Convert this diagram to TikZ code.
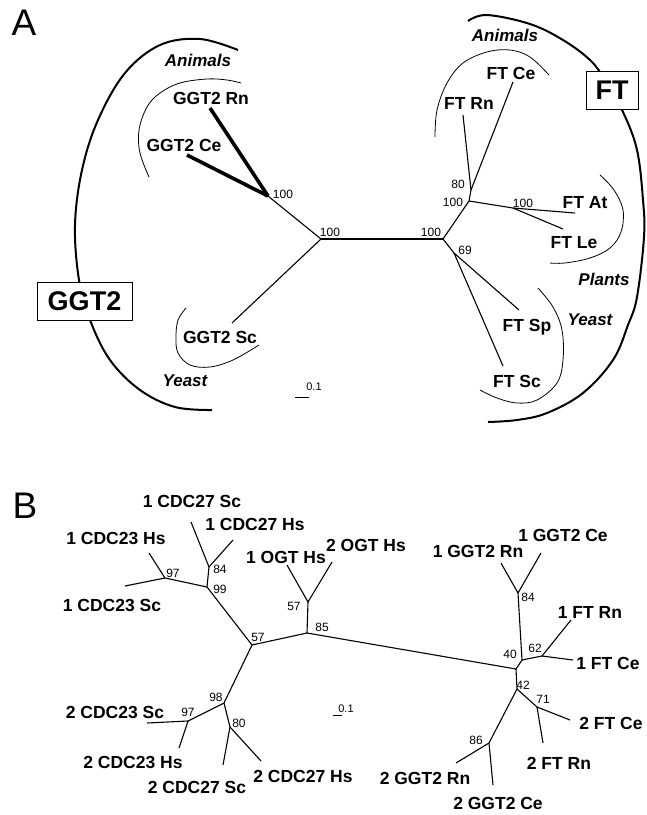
\documentclass[tikz,border=0pt]{standalone}
\usepackage{fontspec}
\newfontfamily\hv{Liberation Sans}
\tikzset{
  leaf/.style={font=\hv\fontsize{17.5}{20}\selectfont\bfseries, inner sep=0pt},
  grp/.style={font=\hv\fontsize{17}{20}\selectfont\bfseries\itshape, inner sep=0pt},
  boot/.style={font=\hv\fontsize{12}{14}\selectfont, inner sep=0pt},
  panel/.style={font=\hv\fontsize{37}{40}\selectfont, inner sep=0pt},
  famfbox/.style={draw, line width=1pt, fill=white, inner sep=0pt, font=\hv\fontsize{27}{30}\selectfont\bfseries},
  br/.style={line width=1.1pt},
  brthick/.style={line width=3.6pt},
  arcthin/.style={line width=0.8pt},
  arcthick/.style={line width=2pt},
  scalelbl/.style={font=\hv\fontsize{11}{12}\selectfont, inner sep=0pt}
}
\begin{document}
\begin{tikzpicture}[x=1pt,y=-1pt]
\useasboundingbox (0,0) rectangle (647,815);
% ---------------- Panel A ----------------
\node[panel] (pA) at (24,23) {A};
% outer arcs
\draw[arcthick] plot[smooth, tension=0.6] coordinates {(238,50) (200,39) (160,45) (125,73) (98,120) (82,170) (75,225) (79,280) (90,320) (110,360) (140,390) (175,407) (212,410)};
\draw[arcthick] plot[smooth, tension=0.6] coordinates {(468,21) (487,15) (530,24) (563,40) (590,60) (605,80) (623,112) (637,150) (643,200) (644,237) (637,297) (628,325) (613,360) (583,393) (547,413) (517,420) (488,422)};
\node[famfbox, minimum width=95pt, minimum height=38pt] (ggtbox) at (84.5,301) {GGT2};
\node[famfbox, minimum width=52pt, minimum height=38pt] (ftbox) at (612,90) {FT};
% inner arcs
\draw[arcthin] plot[smooth, tension=0.6] coordinates {(149,177) (140,153) (139,130) (147,107) (160,93) (180,83) (207,79) (227,80) (241,83)};
\draw[arcthin] plot[smooth, tension=0.6] coordinates {(186,308) (178,320) (176,337) (178,353) (190,365) (210,367) (233,360) (259,345)};
\draw[arcthin] plot[smooth, tension=0.6] coordinates {(435,137) (437,110) (447,83) (463,63) (487,52) (510,50) (530,57) (549,75)};
\draw[arcthin] plot[smooth, tension=0.6] coordinates {(600,175) (614,190) (623,210) (621,232) (610,248) (590,258) (565,263) (550,263)};
\draw[arcthin] plot[smooth, tension=0.6] coordinates {(538,288) (553,307) (562,330) (563,360) (557,383) (537,400) (517,403) (497,398) (480,390)};
% group labels
\node[grp] (anL) at (198,60) {Animals};
\node[grp] (anR) at (505,35) {Animals};
\node[grp] (plR) at (604,279) {Plants};
\node[grp] (yeR) at (590,320) {Yeast};
\node[grp] (yeL) at (185,381) {Yeast};
% tree coordinates
\coordinate (nL) at (321,239);
\coordinate (nR) at (443,239);
\coordinate (gA) at (268,196);
\coordinate (eGRn) at (210,108);
\coordinate (eGCe) at (187,155);
\coordinate (eGSc) at (232,323);
\coordinate (fA) at (469,201);
\coordinate (fAn) at (471,190);
\coordinate (eFRn) at (463,115);
\coordinate (eFCe) at (513,82);
\coordinate (fP) at (513,208);
\coordinate (eFAt) at (575,213);
\coordinate (eFLe) at (563,229);
\coordinate (f69) at (454,253);
\coordinate (eFSp) at (519,310);
\coordinate (eFSc) at (503,366);
% branches
\draw[br] (nL) -- (nR);
\draw[br] (nL) -- (gA);
\draw[brthick] (gA) -- (eGRn);
\draw[brthick] (gA) -- (eGCe);
\draw[br] (nL) -- (eGSc);
\draw[br] (nR) -- (fA) -- (fAn) -- (eFRn);
\draw[br] (fAn) -- (eFCe);
\draw[br] (fA) -- (fP) -- (eFAt);
\draw[br] (fP) -- (eFLe);
\draw[br] (nR) -- (f69) -- (eFSp);
\draw[br] (f69) -- (eFSc);
% leaf labels
\node[leaf] (lGRn) at (211,98) {GGT2 Rn};
\node[leaf] (lGCe) at (184,145) {GGT2 Ce};
\node[leaf] (lGSc) at (220,337) {GGT2 Sc};
\node[leaf] (lFRn) at (469,103) {FT Rn};
\node[leaf] (lFCe) at (511,73) {FT Ce};
\node[leaf] (lFAt) at (585,203) {FT At};
\node[leaf] (lFLe) at (574,243) {FT Le};
\node[leaf] (lFSp) at (527,327) {FT Sp};
\node[leaf] (lFSc) at (517,381) {FT Sc};
% bootstrap values
\node[boot] (bA1) at (283,194) {100};
\node[boot] (bA2) at (330,232) {100};
\node[boot] (bA3) at (431,232) {100};
\node[boot] (bA4) at (458,184) {80};
\node[boot] (bA5) at (453,202) {100};
\node[boot] (bA6) at (523,203) {100};
\node[boot] (bA7) at (465,250) {69};
% scale bar A
\coordinate (sA1) at (295,397);
\coordinate (sA2) at (309,397);
\draw[line width=0.8pt] (sA1) -- (sA2);
\node[scalelbl] (sAl) at (314,387) {0.1};
% ---------------- Panel B ----------------
\node[panel] (pB) at (25,506) {B};
\coordinate (n57) at (252,645);
\coordinate (n85) at (307,633);
\coordinate (nO) at (308,602);
\coordinate (e1OGT) at (287,565);
\coordinate (e2OGT) at (332,562);
\coordinate (n99) at (207,587);
\coordinate (n84) at (209,567);
\coordinate (e1C27Sc) at (191,522);
\coordinate (e1C27Hs) at (233,540);
\coordinate (n97) at (165,578);
\coordinate (e1C23Hs) at (149,553);
\coordinate (e1C23Sc) at (125,586);
\coordinate (nJ) at (516,669);
\coordinate (n40) at (522,660);
\coordinate (n84r) at (518,593);
\coordinate (e1GRn) at (501,563);
\coordinate (e1GCe) at (541,553);
\coordinate (n62) at (542,656);
\coordinate (e1FRn) at (571,620);
\coordinate (e1FCe) at (573,660);
\coordinate (n42) at (517,689);
\coordinate (n71) at (537,707);
\coordinate (e2FCe) at (570,720);
\coordinate (e2FRn) at (543,743);
\coordinate (n86) at (489,743);
\coordinate (e2GRn) at (456,763);
\coordinate (e2GCe) at (493,785);
\coordinate (n98) at (224,703);
\coordinate (n97b) at (188,721);
\coordinate (e2C23Sc) at (147,723);
\coordinate (e2C23Hs) at (179,748);
\coordinate (n80) at (230,727);
\coordinate (e2C27Sc) at (223,765);
\coordinate (e2C27Hs) at (261,761);
\draw[br] (n57) -- (n85) -- (nO) -- (e1OGT);
\draw[br] (nO) -- (e2OGT);
\draw[br] (n57) -- (n99) -- (n84) -- (e1C27Sc);
\draw[br] (n84) -- (e1C27Hs);
\draw[br] (n99) -- (n97) -- (e1C23Hs);
\draw[br] (n97) -- (e1C23Sc);
\draw[br] (n85) -- (nJ) -- (n40) -- (n84r) -- (e1GRn);
\draw[br] (n84r) -- (e1GCe);
\draw[br] (n40) -- (n62) -- (e1FRn);
\draw[br] (n62) -- (e1FCe);
\draw[br] (nJ) -- (n42) -- (n71) -- (e2FCe);
\draw[br] (n71) -- (e2FRn);
\draw[br] (n42) -- (n86) -- (e2GRn);
\draw[br] (n86) -- (e2GCe);
\draw[br] (n57) -- (n98) -- (n97b) -- (e2C23Sc);
\draw[br] (n97b) -- (e2C23Hs);
\draw[br] (n98) -- (n80) -- (e2C27Sc);
\draw[br] (n80) -- (e2C27Hs);
% leaf labels B
\node[leaf] (l1C23Hs) at (116,538) {1 CDC23 Hs};
\node[leaf] (l1C23Sc) at (112,605) {1 CDC23 Sc};
\node[leaf] (l1C27Sc) at (192,501) {1 CDC27 Sc};
\node[leaf] (l1C27Hs) at (255,524) {1 CDC27 Hs};
\node[leaf] (l1OGT) at (286,557) {1 OGT Hs};
\node[leaf] (l2OGT) at (366,545) {2 OGT Hs};
\node[leaf] (l1GRn) at (478,551) {1 GGT2 Rn};
\node[leaf] (l1GCe) at (563,535) {1 GGT2 Ce};
\node[leaf] (l1FRn) at (590,612) {1 FT Rn};
\node[leaf] (l1FCe) at (608,663) {1 FT Ce};
\node[leaf] (l2FCe) at (611,723) {2 FT Ce};
\node[leaf] (l2FRn) at (559,763) {2 FT Rn};
\node[leaf] (l2GRn) at (425,778) {2 GGT2 Rn};
\node[leaf] (l2GCe) at (498,803) {2 GGT2 Ce};
\node[leaf] (l2C23Sc) at (115,712) {2 CDC23 Sc};
\node[leaf] (l2C23Hs) at (133,762) {2 CDC23 Hs};
\node[leaf] (l2C27Sc) at (197,787) {2 CDC27 Sc};
\node[leaf] (l2C27Hs) at (303,776) {2 CDC27 Hs};
% bootstrap B
\node[boot] (bB1) at (173,573) {97};
\node[boot] (bB2) at (220,569) {84};
\node[boot] (bB3) at (220,589) {99};
\node[boot] (bB4) at (294,606) {57};
\node[boot] (bB5) at (322,627) {85};
\node[boot] (bB6) at (258,637) {57};
\node[boot] (bB7) at (528,597) {84};
\node[boot] (bB8) at (535,648) {62};
\node[boot] (bB9) at (510,654) {40};
\node[boot] (bB10) at (523,685) {42};
\node[boot] (bB11) at (543,699) {71};
\node[boot] (bB12) at (476,740) {86};
\node[boot] (bB13) at (216,697) {98};
\node[boot] (bB14) at (188,712) {97};
\node[boot] (bB15) at (239,723) {80};
% scale bar B
\coordinate (sB1) at (333,715);
\coordinate (sB2) at (342,715);
\draw[line width=0.6pt] (sB1) -- (sB2);
\node[scalelbl] (sBl) at (346,709) {0.1};
\end{tikzpicture}
\end{document}
